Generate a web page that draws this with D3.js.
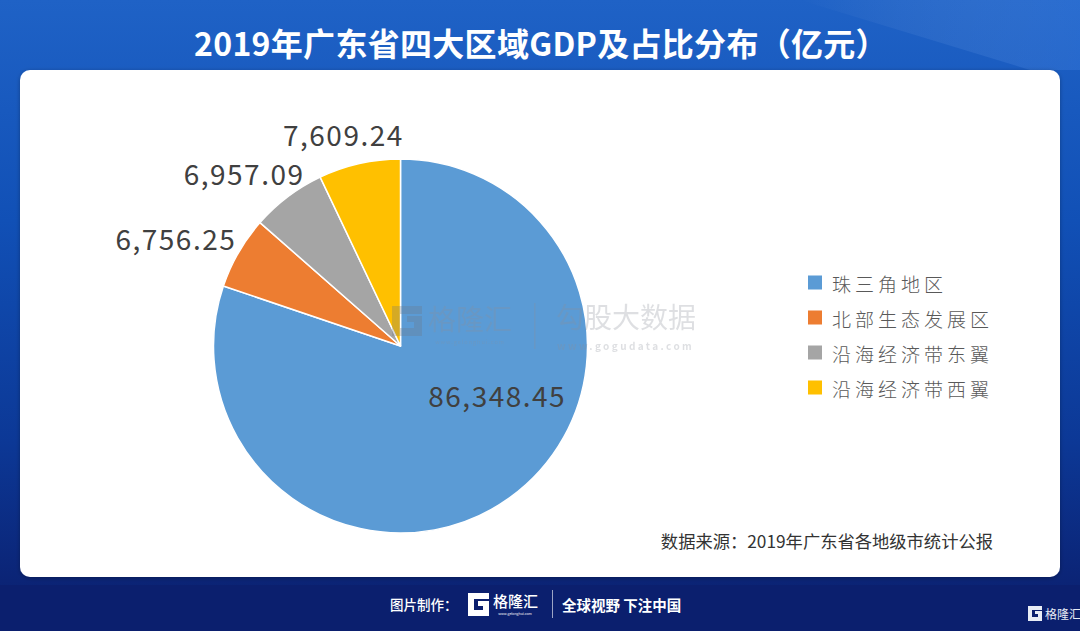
<!DOCTYPE html>
<html><head><meta charset="utf-8">
<script src="https://cdn.jsdelivr.net/npm/d3@7"></script>
<style>html,body{margin:0;padding:0;background:#0b2275;}svg{display:block;}</style>
</head><body>
<svg id="c" width="1080" height="631"></svg>
<script>
// ---- data ----
const categories = ["珠三角地区", "北部生态发展区", "沿海经济带东翼", "沿海经济带西翼"];
const values = [86348.45, 6756.25, 6957.09, 7609.24];
const colors = ["#5b9bd5", "#ed7d31", "#a5a5a5", "#ffc000"];
const titleText = "2019年广东省四大区域GDP及占比分布（亿元）";
const sourceText = "数据来源：2019年广东省各地级市统计公报";

const W = 1080, H = 631;
const svg = d3.select("#c");
const defs = svg.append("defs");
const bg = defs.append("linearGradient").attr("id","bg").attr("x1",0).attr("y1",0).attr("x2",0).attr("y2",1);
[[0,"#1f62c6"],[0.35,"#1150b6"],[0.7,"#0c3896"],[0.92,"#0b2476"],[1,"#0a1e6c"]].forEach(s=>bg.append("stop").attr("offset",s[0]).attr("stop-color",s[1]));
const hl = defs.append("linearGradient").attr("id","hl").attr("x1",0).attr("y1",0).attr("x2",1).attr("y2",0);
hl.append("stop").attr("offset",0).attr("stop-color","#ffffff").attr("stop-opacity",0);
hl.append("stop").attr("offset",1).attr("stop-color","#5fa0ff").attr("stop-opacity",0.18);
const sh = defs.append("filter").attr("id","sh").attr("x","-5%").attr("y","-5%").attr("width","110%").attr("height","110%");
sh.append("feDropShadow").attr("dx",0).attr("dy",1).attr("stdDeviation",2).attr("flood-color","#000").attr("flood-opacity",0.3);

svg.append("rect").attr("width",W).attr("height",H).attr("fill","url(#bg)");
svg.append("path").attr("d","M800,0 L1080,0 L1080,70 L1030,70 Z").attr("fill","url(#hl)");
svg.append("rect").attr("x",0).attr("y",585).attr("width",W).attr("height",46).attr("fill","#0b1f6e");

// title
svg.append("text").attr("x",W/2+1).attr("y",42).attr("text-anchor","middle").attr("dominant-baseline","central")
  .attr("font-family","'Noto Sans CJK SC','Noto Sans',sans-serif").attr("font-weight",700).attr("font-size",32)
  .attr("letter-spacing",0.3).attr("fill","#fff").text(titleText);

// panel
svg.append("rect").attr("x",20).attr("y",70).attr("width",1040).attr("height",507).attr("rx",10)
  .attr("fill","#fff").attr("filter","url(#sh)");

// pie
const cx = 400.5, cy = 346, r = 187;
const pie = d3.pie().sort(null).value(d=>d);
const arcs = pie(values);
const arc = d3.arc().innerRadius(0).outerRadius(r);
const g = svg.append("g").attr("transform",`translate(${cx},${cy})`);
g.selectAll("path").data(arcs).join("path").attr("d",arc)
  .attr("fill",(d,i)=>colors[i]).attr("stroke","#fff").attr("stroke-width",1.5).attr("stroke-linejoin","round");

// watermark
const labelFont = "'Noto Sans CJK SC','Noto Sans',sans-serif";
const wm = svg.append("g").attr("opacity",0.28).attr("fill","#8a8f99").attr("font-family",labelFont);
wm.append("path").attr("d","M392,306 h30 v8 h-22 v14 h14 v-6 h-7 v-6 h15 v20 h-30 Z").attr("fill","#6d7480");
wm.append("text").attr("x",428).attr("y",318).attr("dominant-baseline","central").attr("font-size",28).text("格隆汇");
wm.append("text").attr("x",470).attr("y",344).attr("text-anchor","middle").attr("font-size",5.5).attr("letter-spacing",1).text("www.gelonghui.com");
wm.append("rect").attr("x",534).attr("y",303).attr("width",1.5).attr("height",46);
wm.append("text").attr("x",556).attr("y",316).attr("dominant-baseline","central").attr("font-size",28).text("勾股大数据");
wm.append("text").attr("x",557).attr("y",345).attr("dominant-baseline","central").attr("font-size",10).attr("font-weight",700).attr("letter-spacing",2.4).text("www.gogudata.com");

// labels
const fmt = d3.format(",.2f");
arcs.forEach((d,i)=>{
  const t = g.append("text").attr("font-family",labelFont).attr("font-size",28).attr("letter-spacing",1.5)
    .attr("fill","#404040").attr("text-anchor","middle").attr("dominant-baseline","central").text(fmt(values[i]));
  const bb = t.node().getBBox();
  const w = bb.width, h = 36;
  let x, y;
  const span = d.endAngle - d.startAngle;
  if (span > Math.PI) {
    // best-fit inside label for the large slice
    const a = d.startAngle + span*0.405, rr = r*0.58;
    x = rr*Math.sin(a); y = -rr*Math.cos(a);
  } else {
    const a = (d.startAngle + d.endAngle)/2, ux = Math.sin(a), uy = -Math.cos(a), rr = r + 12;
    x = rr*ux + ux*w/2; y = rr*uy + uy*h/2;
  }
  t.attr("x",x).attr("y",y);
});

// legend
const lg = svg.append("g").attr("transform","translate(808,283)");
const li = lg.selectAll("g").data(categories).join("g").attr("transform",(d,i)=>`translate(0,${i*35})`);
li.append("rect").attr("x",0).attr("y",-7.5).attr("width",14).attr("height",14).attr("fill",(d,i)=>colors[i]);
li.append("text").attr("x",24).attr("y",0).attr("dominant-baseline","central")
  .attr("font-family","'Noto Sans CJK SC',sans-serif").attr("font-size",19).attr("font-weight",300).attr("letter-spacing",4)
  .attr("fill","#595959").text(d=>d);

// source
svg.append("text").attr("x",993).attr("y",540).attr("text-anchor","end").attr("dominant-baseline","central")
  .attr("font-family","'Noto Sans CJK SC',sans-serif").attr("font-size",17.3).attr("fill","#333").text(sourceText);

// footer
const ft = svg.append("g").attr("fill","#fff").attr("font-family","'Noto Sans CJK SC',sans-serif");
ft.append("text").attr("x",390).attr("y",604).attr("dominant-baseline","central").attr("font-size",13.5).attr("font-weight",500).text("图片制作：");
ft.append("path").attr("d","M468,593 h21 v6 h-15 v11 h9 v-4 h-5 v-5 h11 v15 h-21 Z");
ft.append("text").attr("x",493).attr("y",600).attr("dominant-baseline","central").attr("font-size",15).attr("font-weight",500).text("格隆汇");
ft.append("text").attr("x",515).attr("y",615).attr("text-anchor","middle").attr("font-size",3.5).text("www.gelonghui.com");
ft.append("rect").attr("x",552).attr("y",590).attr("width",1).attr("height",28).attr("opacity",0.6);
ft.append("text").attr("x",562).attr("y",604).attr("dominant-baseline","central").attr("font-size",14.5).attr("font-weight",700).text("全球视野 下注中国");

const br = svg.append("g").attr("fill","#e8ecf5").attr("font-family","'Noto Sans CJK SC',sans-serif");
br.append("path").attr("d","M1028,606 h14 v4 h-10 v7 h6 v-3 h-3 v-3 h7 v10 h-14 Z");
br.append("text").attr("x",1045).attr("y",613).attr("dominant-baseline","central").attr("font-size",12).text("格隆汇");
</script>
</body></html>
